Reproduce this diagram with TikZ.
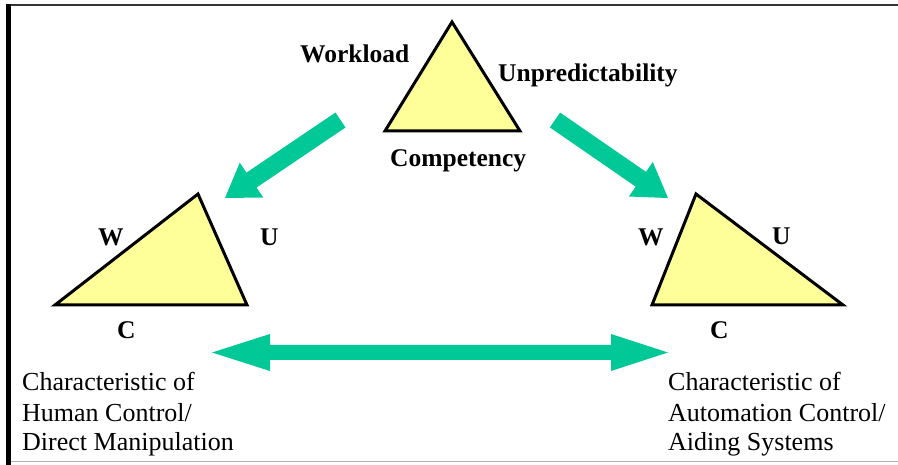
\documentclass[tikz,border=0pt]{standalone}
\usepackage{fontspec}
\setmainfont{Liberation Serif}
\usetikzlibrary{calc}
\definecolor{arrowgreen}{RGB}{0,200,150}
\definecolor{triyellow}{RGB}{255,255,153}
\tikzset{
  tri/.style={draw=black, fill=triyellow, line width=3pt, line join=miter},
  lbl/.style={anchor=base west, inner sep=0pt, font=\fontsize{25.5}{30}\selectfont\bfseries},
  txt/.style={anchor=base west, inner sep=0pt, font=\fontsize{26}{30}\selectfont},
  greenarrow/.style={fill=arrowgreen, draw=none}
}
% tail, tip, shaft half width, head half width, head length
\newcommand{\myfatarrow}[5]{%
  \coordinate (Hx) at ($(#2)!#5!(#1)$);
  \path[greenarrow]
    ($(#1)!#3!90:(#2)$) -- ($(Hx)!#3!90:(#2)$) -- ($(Hx)!#4!90:(#2)$) -- (#2)
    -- ($(Hx)!#4!-90:(#2)$) -- ($(Hx)!#3!-90:(#2)$) -- ($(#1)!#3!-90:(#2)$) -- cycle;
}
\begin{document}
\begin{tikzpicture}[x=1pt, y=-1pt]
\useasboundingbox (0,0) rectangle (898,465);
% frame
\draw[line width=2.5pt, black!80] (7,5) -- (898,5);
\draw[line width=1pt, black!30] (8,461.5) -- (898,461.5);
\draw[line width=4.5pt, black] (8.5,4) -- (8.5,465);

% triangles
\coordinate (ta) at (452,22);
\coordinate (tl) at (385,131);
\coordinate (tr) at (520,131);
\draw[tri] (ta) -- (tl) -- (tr) -- cycle;

\coordinate (la) at (198,194);
\coordinate (ll) at (55,305);
\coordinate (lr) at (247,305);
\draw[tri] (la) -- (ll) -- (lr) -- cycle;

\coordinate (ra) at (696,194);
\coordinate (rl) at (652,305);
\coordinate (rr) at (843,305);
\draw[tri] (ra) -- (rl) -- (rr) -- cycle;

% diagonal arrows
\coordinate (a1t) at (340.5,120);
\coordinate (a1p) at (225,198);
\myfatarrow{a1t}{a1p}{9pt}{21pt}{32pt}
\coordinate (a2t) at (555,120);
\coordinate (a2p) at (668,198);
\myfatarrow{a2t}{a2p}{9pt}{21pt}{33pt}

% double arrow
\coordinate (dl) at (212,352.5);
\coordinate (dr) at (668,352.5);
\coordinate (h1) at ($(dl)!58pt!(dr)$);
\coordinate (h2) at ($(dr)!57pt!(dl)$);
\path[greenarrow] (dl) -- ($(h1)!18.5pt!90:(dl)$) -- ($(h1)!7.5pt!90:(dl)$)
  -- ($(h2)!7.5pt!-90:(dr)$) -- ($(h2)!18.5pt!-90:(dr)$) -- (dr)
  -- ($(h2)!18.5pt!90:(dr)$) -- ($(h2)!7.5pt!90:(dr)$)
  -- ($(h1)!7.5pt!-90:(dl)$) -- ($(h1)!18.5pt!-90:(dl)$) -- cycle;

% labels
\node[lbl] (workload) at (300,63) {Workload};
\node[lbl] (unpred) at (498,82) {Unpredictability};
\node[lbl] (comp) at (390,167) {Competency};
\node[lbl] (wl) at (98,246) {W};
\node[lbl] (ul) at (260,246) {U};
\node[lbl] (cl) at (117,339) {C};
\node[lbl] (wr) at (638,246) {W};
\node[lbl] (ur) at (772,245) {U};
\node[lbl] (cr) at (710,339) {C};

\node[txt] (l1) at (22,391) {Characteristic of};
\node[txt] (l2) at (22,421) {Human Control/};
\node[txt] (l3) at (22,450) {Direct Manipulation};
\node[txt] (r1) at (668,391) {Characteristic of};
\node[txt] (r2) at (668,421) {Automation Control/};
\node[txt] (r3) at (668,450) {Aiding Systems};
\end{tikzpicture}
\end{document}
